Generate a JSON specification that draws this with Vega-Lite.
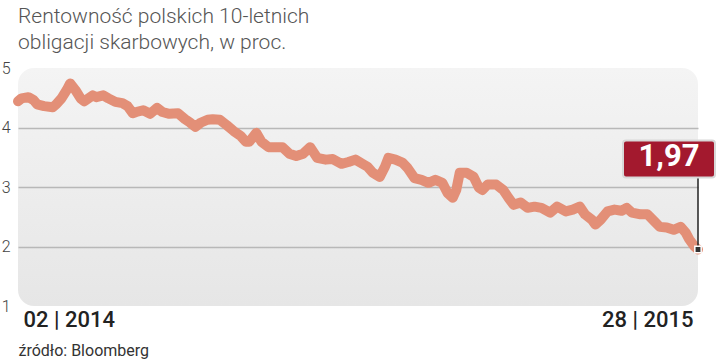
{
  "$schema": "https://vega.github.io/schema/vega-lite/v6.json",
  "width": 680,
  "height": 238,
  "autosize": {"type": "none"},
  "padding": {"left": 18, "top": 68, "right": 22, "bottom": 54},
  "background": "white",
  "title": {
    "text": ["Rentowność polskich 10-letnich", "obligacji skarbowych, w proc."],
    "anchor": "start",
    "frame": "group",
    "font": "Roboto",
    "fontSize": 21,
    "fontWeight": 300,
    "color": "#555555",
    "lineHeight": 26,
    "offset": 7
  },
  "config": {
    "font": "Roboto",
    "view": {
      "fill": {"gradient": "linear", "x1": 0, "y1": 0, "x2": 0, "y2": 1,
        "stops": [{"offset": 0, "color": "#f4f4f4"}, {"offset": 1, "color": "#e6e6e6"}]},
      "cornerRadius": 16,
      "stroke": null
    }
  },
  "layer": [
    {
      "data": {"values": [
        {"date": "2014-01-02", "value": 4.44},
        {"date": "2014-01-04", "value": 4.49},
        {"date": "2014-01-08", "value": 4.51},
        {"date": "2014-01-11", "value": 4.46},
        {"date": "2014-01-13", "value": 4.39},
        {"date": "2014-01-17", "value": 4.36},
        {"date": "2014-01-22", "value": 4.34},
        {"date": "2014-01-24", "value": 4.39},
        {"date": "2014-01-27", "value": 4.49},
        {"date": "2014-01-30", "value": 4.63},
        {"date": "2014-02-01", "value": 4.74},
        {"date": "2014-02-04", "value": 4.63},
        {"date": "2014-02-07", "value": 4.49},
        {"date": "2014-02-09", "value": 4.44},
        {"date": "2014-02-14", "value": 4.54},
        {"date": "2014-02-16", "value": 4.51},
        {"date": "2014-02-20", "value": 4.54},
        {"date": "2014-02-23", "value": 4.49},
        {"date": "2014-02-27", "value": 4.43},
        {"date": "2014-03-03", "value": 4.41},
        {"date": "2014-03-06", "value": 4.36},
        {"date": "2014-03-09", "value": 4.24},
        {"date": "2014-03-11", "value": 4.26},
        {"date": "2014-03-15", "value": 4.29},
        {"date": "2014-03-19", "value": 4.23},
        {"date": "2014-03-23", "value": 4.33},
        {"date": "2014-03-26", "value": 4.26},
        {"date": "2014-03-30", "value": 4.23},
        {"date": "2014-04-04", "value": 4.24},
        {"date": "2014-04-08", "value": 4.14},
        {"date": "2014-04-11", "value": 4.08},
        {"date": "2014-04-14", "value": 4.01},
        {"date": "2014-04-17", "value": 4.08},
        {"date": "2014-04-21", "value": 4.13},
        {"date": "2014-04-24", "value": 4.14},
        {"date": "2014-04-28", "value": 4.13},
        {"date": "2014-05-02", "value": 4.04},
        {"date": "2014-05-06", "value": 3.94},
        {"date": "2014-05-10", "value": 3.86},
        {"date": "2014-05-13", "value": 3.76},
        {"date": "2014-05-15", "value": 3.76},
        {"date": "2014-05-19", "value": 3.91},
        {"date": "2014-05-22", "value": 3.76},
        {"date": "2014-05-26", "value": 3.67},
        {"date": "2014-05-30", "value": 3.67},
        {"date": "2014-06-03", "value": 3.67},
        {"date": "2014-06-07", "value": 3.56},
        {"date": "2014-06-11", "value": 3.52},
        {"date": "2014-06-15", "value": 3.56},
        {"date": "2014-06-19", "value": 3.67},
        {"date": "2014-06-23", "value": 3.49},
        {"date": "2014-06-28", "value": 3.46},
        {"date": "2014-07-02", "value": 3.47},
        {"date": "2014-07-07", "value": 3.39},
        {"date": "2014-07-11", "value": 3.42},
        {"date": "2014-07-15", "value": 3.46},
        {"date": "2014-07-19", "value": 3.39},
        {"date": "2014-07-22", "value": 3.34},
        {"date": "2014-07-25", "value": 3.24},
        {"date": "2014-07-29", "value": 3.17},
        {"date": "2014-08-01", "value": 3.34},
        {"date": "2014-08-03", "value": 3.49},
        {"date": "2014-08-07", "value": 3.46},
        {"date": "2014-08-11", "value": 3.41},
        {"date": "2014-08-14", "value": 3.32},
        {"date": "2014-08-18", "value": 3.15},
        {"date": "2014-08-22", "value": 3.12},
        {"date": "2014-08-26", "value": 3.07},
        {"date": "2014-08-30", "value": 3.12},
        {"date": "2014-09-03", "value": 3.07},
        {"date": "2014-09-06", "value": 2.90},
        {"date": "2014-09-09", "value": 2.82},
        {"date": "2014-09-11", "value": 2.95},
        {"date": "2014-09-13", "value": 3.24},
        {"date": "2014-09-17", "value": 3.24},
        {"date": "2014-09-21", "value": 3.17},
        {"date": "2014-09-24", "value": 2.99},
        {"date": "2014-09-26", "value": 2.95},
        {"date": "2014-09-29", "value": 3.04},
        {"date": "2014-10-04", "value": 3.04},
        {"date": "2014-10-08", "value": 2.95},
        {"date": "2014-10-11", "value": 2.82},
        {"date": "2014-10-14", "value": 2.70},
        {"date": "2014-10-18", "value": 2.74},
        {"date": "2014-10-22", "value": 2.65},
        {"date": "2014-10-26", "value": 2.67},
        {"date": "2014-10-30", "value": 2.65},
        {"date": "2014-11-04", "value": 2.57},
        {"date": "2014-11-08", "value": 2.67},
        {"date": "2014-11-13", "value": 2.59},
        {"date": "2014-11-17", "value": 2.62},
        {"date": "2014-11-21", "value": 2.67},
        {"date": "2014-11-24", "value": 2.54},
        {"date": "2014-11-28", "value": 2.45},
        {"date": "2014-11-30", "value": 2.37},
        {"date": "2014-12-03", "value": 2.45},
        {"date": "2014-12-07", "value": 2.59},
        {"date": "2014-12-11", "value": 2.62},
        {"date": "2014-12-15", "value": 2.60},
        {"date": "2014-12-18", "value": 2.65},
        {"date": "2014-12-21", "value": 2.57},
        {"date": "2014-12-26", "value": 2.54},
        {"date": "2014-12-30", "value": 2.54},
        {"date": "2015-01-03", "value": 2.42},
        {"date": "2015-01-06", "value": 2.33},
        {"date": "2015-01-10", "value": 2.32},
        {"date": "2015-01-14", "value": 2.28},
        {"date": "2015-01-18", "value": 2.33},
        {"date": "2015-01-21", "value": 2.23},
        {"date": "2015-01-23", "value": 2.12},
        {"date": "2015-01-26", "value": 2.00},
        {"date": "2015-01-28", "value": 1.95}
      ]},
      "mark": {"type": "line", "color": "#e38f77", "strokeWidth": 10, "strokeCap": "round", "strokeJoin": "round"},
      "encoding": {
        "x": {
          "field": "date", "type": "temporal",
          "scale": {"type": "utc", "nice": false},
          "axis": {
            "values": [{"year": 2014, "month": 1, "date": 2, "utc": true}, {"year": 2015, "month": 1, "date": 28, "utc": true}],
            "format": "%d | %Y",
            "labelFlush": true,
            "labelFlushOffset": -5,
            "labelFont": "Roboto",
            "labelFontSize": 22,
            "labelFontWeight": 500,
            "labelColor": "#222222",
            "labelPadding": 3,
            "domain": false,
            "ticks": false,
            "grid": false,
            "title": "źródło: Bloomberg",
            "titleAnchor": "start",
            "titleAlign": "left",
            "titleFont": "Roboto",
            "titleFontSize": 16,
            "titleFontWeight": "normal",
            "titleColor": "#333333",
            "titlePadding": 12
          }
        },
        "y": {
          "field": "value", "type": "quantitative",
          "scale": {"domain": [1, 5], "nice": false},
          "axis": {
            "values": [1, 2, 3, 4, 5],
            "format": "d",
            "grid": true,
            "gridColor": "#b8b8b8",
            "gridWidth": 1.5,
            "gridOpacity": {"condition": {"test": "datum.value == 1 || datum.value == 5", "value": 0}, "value": 1},
            "domain": false,
            "ticks": false,
            "labelFont": "Roboto",
            "labelFontSize": 16,
            "labelFontWeight": 300,
            "labelColor": "#444444",
            "labelPadding": 8,
            "title": null
          }
        }
      }
    },
    {
      "data": {"values": [{"date": "2015-01-28", "value": 1.95, "label": "1,97"}]},
      "encoding": {
        "x": {"field": "date", "type": "temporal"},
        "y": {"field": "value", "type": "quantitative"}
      },
      "layer": [
        {"mark": {"type": "rule", "color": "#222222", "strokeWidth": 1.5, "y2Offset": -72},
         "encoding": {"y2": {"field": "value"}}},
        {"mark": {"type": "rect", "fill": "#a3192e", "stroke": "#d8d8d8", "strokeWidth": 2, "cornerRadius": 3,
                  "xOffset": -75, "x2Offset": 17, "yOffset": -109, "y2Offset": -72},
         "encoding": {"x2": {"field": "date"}, "y2": {"field": "value"}}},
        {"mark": {"type": "text", "color": "white", "font": "Roboto", "fontSize": 31, "fontWeight": "bold", "dx": -29, "dy": -92},
         "encoding": {"text": {"field": "label"}}},
        {"mark": {"type": "point", "shape": "square", "filled": true, "size": 40, "color": "#333333", "stroke": "white", "strokeWidth": 1.5, "opacity": 1}}
      ]
    }
  ]
}
